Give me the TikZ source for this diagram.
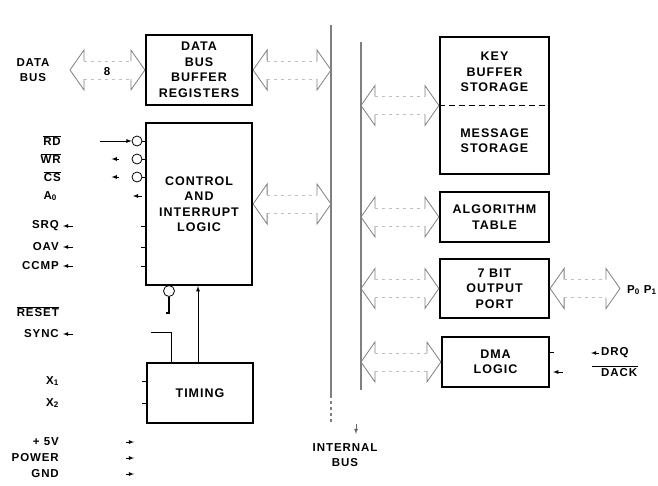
\documentclass[tikz,border=0pt]{standalone}
\usepackage{fontspec}
\setmainfont{Liberation Sans}[LetterSpace=8]
\usetikzlibrary{positioning}

\tikzset{
  blk/.style={draw, line width=2.2pt, align=center, inner sep=0pt,
    font=\fontsize{12.5}{15.5}\selectfont\bfseries},
  lbl/.style={inner sep=1pt, align=center, font=\fontsize{11.5}{15.5}\selectfont\bfseries},
  bubble/.style={draw, circle, line width=0.8pt, minimum size=10pt, inner sep=0pt},
  bushd/.style={black!50, line width=0.8pt},
  busbody/.style={black!25, line width=0.6pt, dash pattern=on 3pt off 4pt},
  busln/.style={black!50, line width=1.3pt},
  sig/.style={-latex, line width=0.8pt},
  wire/.style={line width=0.8pt},
  lhead/.pic={\draw[bushd] (14,-9) -- (14,-20) -- (0,0) -- (14,20) -- (14,9);},
  rhead/.pic={\draw[bushd] (-14,-9) -- (-14,-20) -- (0,0) -- (-14,20) -- (-14,9);}
}

% wide bus arrow: "<" at #1, ">" at #2
\newcommand{\busarrow}[2]{%
  \pic at (#1) {lhead};
  \pic at (#2) {rhead};
  \draw[busbody] ([xshift=14pt,yshift=9pt]#1) -- ([xshift=-14pt,yshift=9pt]#2)
                 ([xshift=14pt,yshift=-9pt]#1) -- ([xshift=-14pt,yshift=-9pt]#2);}

\begin{document}
\begin{tikzpicture}[x=1pt, y=-1pt]
\useasboundingbox (0,0) rectangle (658,485);

% Blocks
\node[blk, minimum width=106pt, minimum height=70pt] (dbb) at (199,70) {DATA\\BUS\\BUFFER\\REGISTERS};
\node[blk, minimum width=106pt, minimum height=162pt] (ctrl) at (199,204) {CONTROL\\AND\\INTERRUPT\\LOGIC};
\node[blk, minimum width=106pt, minimum height=60pt] (timing) at (200,393) {TIMING};
\node[blk, minimum width=109pt, minimum height=137pt] (keymsg) at (494.5,105.5) {};
\node[blk, minimum width=109pt, minimum height=50pt] (algo) at (494.5,217) {ALGORITHM\\TABLE};
\node[blk, minimum width=109pt, minimum height=59pt] (port) at (494.5,288.5) {7 BIT\\OUTPUT\\PORT};
\node[blk, minimum width=107pt, minimum height=50pt] (dma) at (495.5,362) {DMA\\LOGIC};

% Key / message storage halves
\draw[line width=1.6pt, dash pattern=on 6pt off 4pt] (keymsg.west) -- (keymsg.east);
\node[blk, draw=none] (keytxt) at (494.5,72) {KEY\\BUFFER\\STORAGE};
\node[blk, draw=none] (msgtxt) at (494.5,140.5) {MESSAGE\\STORAGE};

% Internal bus
\coordinate (busL) at (331,0);
\coordinate (busR) at (361,0);
\draw[busln] (331,25) -- (331,395);
\draw[busln, dashed] (331,395) -- (331,422);
\draw[busln] (361,42) -- (361,390);
\draw[sig, black!60] (356,424) -- (356,434);
\node[lbl] (ibus) at (345,455) {INTERNAL\\BUS};

% Bus tips
\coordinate (dbtip) at (70,70);
\coordinate (db) at (dbb.east -| busL);
\coordinate (cb) at (ctrl.east -| busL);
\coordinate (kb) at (keymsg.west -| busR);
\coordinate (ab) at (algo.west -| busR);
\coordinate (pb) at (port.west -| busR);
\coordinate (mb) at (dma.west -| busR);
\coordinate (pout) at (620,288.5);

% Bus arrows
\busarrow{dbtip}{dbb.west}
\busarrow{dbb.east}{db}
\busarrow{ctrl.east}{cb}
\busarrow{kb}{keymsg.west}
\busarrow{ab}{algo.west}
\busarrow{pb}{port.west}
\busarrow{mb}{dma.west}
\busarrow{port.east}{pout}

% Data bus
\node[lbl] (dbus) at (33,70) {DATA\\BUS};
\node[lbl] (eight) at (107,72) {8};
\node[lbl, anchor=west] (pins) at (626,290) {P\textsubscript{0} P\textsubscript{1}};

% Control inputs
\node[lbl, anchor=east] (rd) at (62,141) {$\overline{\hbox{RD}}$};
\node[lbl, anchor=east] (wr) at (62,159) {$\overline{\hbox{WR}}$};
\node[lbl, anchor=east] (cs) at (62,177) {$\overline{\hbox{CS}}$};
\node[lbl, anchor=east] (a0) at (58,196) {A\textsubscript{0}};
\node[bubble] (rdb) at (137,141) {};
\node[bubble] (wrb) at (137,159) {};
\node[bubble] (csb) at (137,177) {};
\draw[wire] (rdb.east) -- (ctrl.west |- rdb);
\draw[wire] (wrb.east) -- (ctrl.west |- wrb);
\draw[wire] (csb.east) -- (ctrl.west |- csb);
\draw[sig] ([xshift=38pt]rd.east) -- (rdb);
\draw[sig] ([xshift=-13pt]wrb.west) -- ++(-7,0);
\draw[sig] ([xshift=-13pt]csb.west) -- ++(-7,0);
\draw[sig] ([xshift=-3pt]ctrl.west |- a0) -- ++(-9,0);

% Control outputs
\node[lbl, anchor=east] (srq) at (60,226) {SRQ};
\node[lbl, anchor=east] (oav) at (60,247) {OAV};
\node[lbl, anchor=east] (ccmp) at (60,266) {CCMP};
\draw[sig] ([xshift=13pt]srq.east) -- ([xshift=3pt]srq.east);
\draw[sig] ([xshift=13pt]oav.east) -- ([xshift=3pt]oav.east);
\draw[sig] ([xshift=13pt]ccmp.east) -- ([xshift=3pt]ccmp.east);
\draw[wire] (ctrl.west |- srq) -- ++(-4,0);
\draw[wire] (ctrl.west |- oav) -- ++(-4,0);
\draw[wire] (ctrl.west |- ccmp) -- ++(-4,0);

% Reset and sync
\node[lbl, anchor=east] (reset) at (60,312) {$\overline{\hbox{RESET}}$};
\node[lbl, anchor=east] (sync) at (60,334) {SYNC};
\draw[sig] ([xshift=13pt]sync.east) -- ([xshift=3pt]sync.east);

% Control to timing
\node[bubble, minimum size=11pt] (clkb) at (169,291) {};
\draw[line width=1.2pt] (clkb.south) -- ++(0,16) -- ++(-3,0);
\draw[wire] ([xshift=25pt]timing.north west) |- ++(-20,-30);
\draw[sig] (198,0 |- timing.north) -- (198,0 |- ctrl.south);

% Clock inputs
\node[lbl, anchor=east] (x1) at (60,381) {X\textsubscript{1}};
\node[lbl, anchor=east] (x2) at (60,403) {X\textsubscript{2}};
\draw[wire] (timing.west |- x1) -- ++(-4,0);
\draw[wire] (timing.west |- x2) -- ++(-4,0);

% Power
\node[lbl, anchor=east] (vcc) at (60,442) {+ 5V};
\node[lbl, anchor=east] (pwr) at (60,458) {POWER};
\node[lbl, anchor=east] (gnd) at (60,474) {GND};
\draw[sig] ([xshift=66pt]vcc.east) -- ++(8,0);
\draw[sig] ([xshift=66pt]pwr.east) -- ++(8,0);
\draw[sig] ([xshift=66pt]gnd.east) -- ++(8,0);

% DMA handshake
\node[lbl, anchor=west] (drq) at (600,353) {DRQ};
\node[lbl, anchor=west] (dack) at (600,373) {DACK};
\draw[wire] ([yshift=10pt]dma.east) -- ++(4,0);
\draw[sig] ([xshift=-1pt]drq.west) -- ++(-8,0);
\draw[wire] ([xshift=-8pt,yshift=1pt]dack.north west) -- ([yshift=1pt]dack.north east);
\draw[sig] ([xshift=13pt,yshift=-10pt]dma.east) -- ([xshift=3pt,yshift=-10pt]dma.east);

\end{tikzpicture}
\end{document}
